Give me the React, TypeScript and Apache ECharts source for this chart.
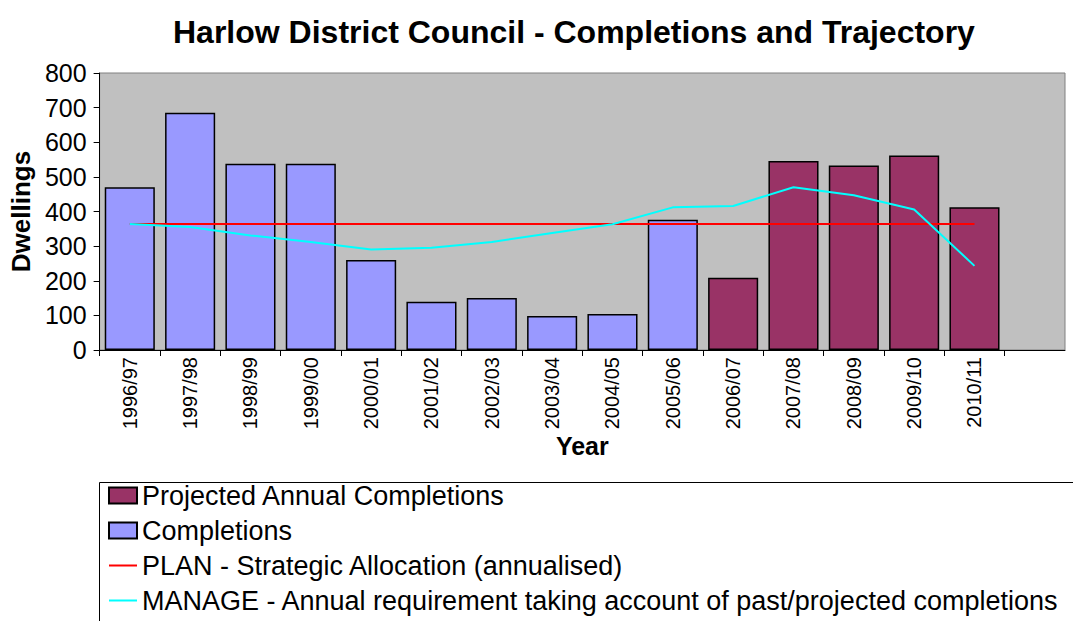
import React, { useEffect, useRef } from "react";
import * as echarts from "echarts";

const categories = [
  "1996/97", "1997/98", "1998/99", "1999/00", "2000/01", "2001/02", "2002/03", "2003/04",
  "2004/05", "2005/06", "2006/07", "2007/08", "2008/09", "2009/10", "2010/11", "",
];
const completions: (number | string)[] = [470, 685, 538, 538, 260, 139, 150, 98, 104, 376, "-", "-", "-", "-", "-", "-"];
const projected: (number | string)[] = ["-", "-", "-", "-", "-", "-", "-", "-", "-", "-", 209, 546, 533, 562, 412, "-"];
const plan: (number | string)[] = [364, 364, 364, 364, 364, 364, 364, 364, 364, 364, 364, 364, 364, 364, 364, "-"];
const manage: (number | string)[] = [364, 355, 331, 312, 290, 295, 312, 338, 363, 412, 416, 470, 447, 406, 243, "-"];
const yTicks = { min: 0, max: 800, interval: 100 };

const FONT = "'Liberation Sans', Arial, sans-serif";
const LINE_ICON = "path://M0,0 L28,0 L28,2 L0,2 Z";

export default function App() {
  const ref = useRef<HTMLDivElement>(null);
  useEffect(() => {
    document.body.style.margin = "0";
    const chart = echarts.init(ref.current!, null, { renderer: "svg" });
    chart.setOption({
      animation: false,
      textStyle: { fontFamily: FONT, color: "#000" },
      title: {
        text: "Harlow District Council - Completions and Trajectory",
        left: 168,
        top: 11,
        textStyle: { fontSize: 32, fontWeight: "bold", color: "#000", fontFamily: FONT },
      },
      grid: {
        left: 95,
        right: 8,
        top: 73,
        bottom: 271,
        show: true,
        backgroundColor: "#C0C0C0",
        borderColor: "#808080",
        borderWidth: 1,
      },
      legend: {
        orient: "vertical",
        left: 108,
        top: 482,
        padding: 0,
        itemWidth: 28,
        itemHeight: 16,
        itemGap: 8,
        textStyle: { fontSize: 27, lineHeight: 27, color: "#000", fontFamily: FONT },
        data: [
          { name: "Projected Annual Completions", icon: "rect" },
          { name: "Completions", icon: "rect" },
          {
            name: "PLAN - Strategic Allocation (annualised)",
            icon: LINE_ICON,
            itemStyle: { color: "#FF0000", borderWidth: 0 },
          },
          {
            name: "MANAGE - Annual requirement taking account of past/projected completions",
            icon: LINE_ICON,
            itemStyle: { color: "#00FFFF", borderWidth: 0 },
          },
        ],
      },
      graphic: [
        {
          type: "rect",
          left: 97,
          top: 480,
          shape: { width: 1000, height: 200 },
          style: { fill: "none", stroke: "#000", lineWidth: 1 },
          z: -1,
        },
      ],
      xAxis: {
        type: "category",
        data: categories,
        boundaryGap: true,
        name: "Year",
        nameLocation: "middle",
        nameGap: 78,
        nameTextStyle: { fontSize: 25, fontWeight: "bold", color: "#000", fontFamily: FONT },
        axisLine: { lineStyle: { color: "#000", width: 1 } },
        axisTick: { show: true, length: 6, lineStyle: { color: "#000" } },
        axisLabel: { rotate: 90, fontSize: 20, color: "#000", margin: 7, interval: 0, fontFamily: FONT },
        splitLine: { show: false },
      },
      yAxis: {
        type: "value",
        min: yTicks.min,
        max: yTicks.max,
        interval: yTicks.interval,
        name: "Dwellings",
        nameLocation: "middle",
        nameGap: 60,
        nameRotate: 90,
        nameTextStyle: { fontSize: 26, fontWeight: "bold", color: "#000", fontFamily: FONT },
        axisLine: { show: true, lineStyle: { color: "#000", width: 1 } },
        axisTick: { show: true, length: 6, lineStyle: { color: "#000" } },
        axisLabel: { fontSize: 25, color: "#000", margin: 13, fontFamily: FONT },
        splitLine: { show: false },
      },
      series: [
        {
          name: "Completions",
          type: "bar",
          data: completions,
          barGap: "-100%",
          barCategoryGap: "17%",
          itemStyle: { color: "#9999FF", borderColor: "#000", borderWidth: 1.5 },
        },
        {
          name: "Projected Annual Completions",
          type: "bar",
          data: projected,
          barGap: "-100%",
          barCategoryGap: "17%",
          itemStyle: { color: "#993366", borderColor: "#000", borderWidth: 1.5 },
        },
        {
          name: "PLAN - Strategic Allocation (annualised)",
          type: "line",
          data: plan,
          symbol: "none",
          lineStyle: { color: "#FF0000", width: 2 },
          itemStyle: { color: "#FF0000" },
        },
        {
          name: "MANAGE - Annual requirement taking account of past/projected completions",
          type: "line",
          data: manage,
          symbol: "none",
          lineStyle: { color: "#00FFFF", width: 2 },
          itemStyle: { color: "#00FFFF" },
        },
      ],
    });
    return () => chart.dispose();
  }, []);
  return <div ref={ref} style={{ width: 1073, height: 621 }} />;
}
